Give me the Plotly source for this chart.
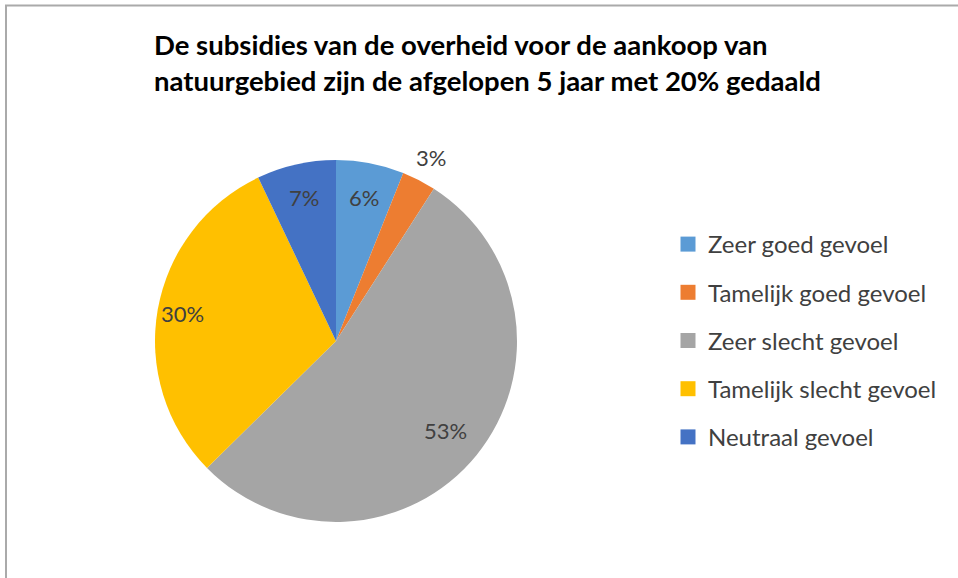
import math
import plotly.graph_objects as go

categories = ["Zeer goed gevoel", "Tamelijk goed gevoel", "Zeer slecht gevoel",
              "Tamelijk slecht gevoel", "Neutraal gevoel"]
values = [6, 3, 53, 30, 7]
colors = ["#5B9BD5", "#ED7D31", "#A5A5A5", "#FFC000", "#4472C4"]
title_lines = ["De subsidies van de overheid voor de aankoop van",
               "natuurgebied zijn de afgelopen 5 jaar met 20% gedaald"]
# radial position of each data label, as a fraction of the radius (style)
label_radius = [0.81, 1.14, 0.78, 0.86, 0.81]

W, H = 958, 578
cx, cy, R = 336, 341, 181

fig = go.Figure()
fig.add_trace(go.Pie(
    labels=categories, values=values, sort=False, direction="clockwise", rotation=0,
    marker=dict(colors=colors, line=dict(width=0)),
    textinfo="none",
    showlegend=False, hoverinfo="label+percent",
    domain=dict(x=[(cx - R) / W, (cx + R) / W],
                y=[1 - (cy + R) / H, 1 - (cy - R) / H]),
))
for cat, col in zip(categories, colors):
    fig.add_trace(go.Scatter(x=[None], y=[None], mode="markers", name=cat,
                             legendgroup=cat,
                             marker=dict(symbol="square", size=15, color=col)))

# data labels placed at each slice's mid-angle
total = sum(values)
annotations = []
cum = 0
for v, rf in zip(values, label_radius):
    mid = (cum + v / 2) / total * 2 * math.pi
    cum += v
    px = cx + math.sin(mid) * R * rf
    py = cy - math.cos(mid) * R * rf
    annotations.append(dict(x=px / W, y=1 - py / H, xref="paper", yref="paper",
                            text=f"{v}%", showarrow=False, xanchor="center", yanchor="middle",
                            font=dict(family="Lato", size=22, color="#404040")))

fig.update_layout(
    width=W, height=H, margin=dict(l=0, r=0, t=0, b=0),
    paper_bgcolor="white", plot_bgcolor="white",
    xaxis=dict(visible=False), yaxis=dict(visible=False),
    title=dict(text="<b>" + "<br>".join(title_lines) + "</b>", x=154 / W, xanchor="left",
               y=1 - 55 / H, yanchor="top",
               font=dict(family="Lato", size=27.5, color="#000000")),
    legend=dict(x=668 / W, y=1 - 222 / H, xanchor="left", yanchor="top",
                font=dict(family="Lato", size=24, color="#404040"),
                tracegroupgap=14, itemwidth=30, bgcolor="rgba(0,0,0,0)"),
    annotations=annotations,
    shapes=[
        dict(type="line", xref="paper", yref="paper", x0=5 / W, x1=1.0,
             y0=1 - 5.5 / H, y1=1 - 5.5 / H, line=dict(color="#AAAAAA", width=2)),
        dict(type="line", xref="paper", yref="paper", x0=6 / W, x1=6 / W,
             y0=0, y1=1 - 5 / H, line=dict(color="#AAAAAA", width=2)),
    ],
)
fig.write_html("out.html", config={"displayModeBar": False},
               post_script="document.body.style.margin='0';document.body.style.overflow='hidden';")
